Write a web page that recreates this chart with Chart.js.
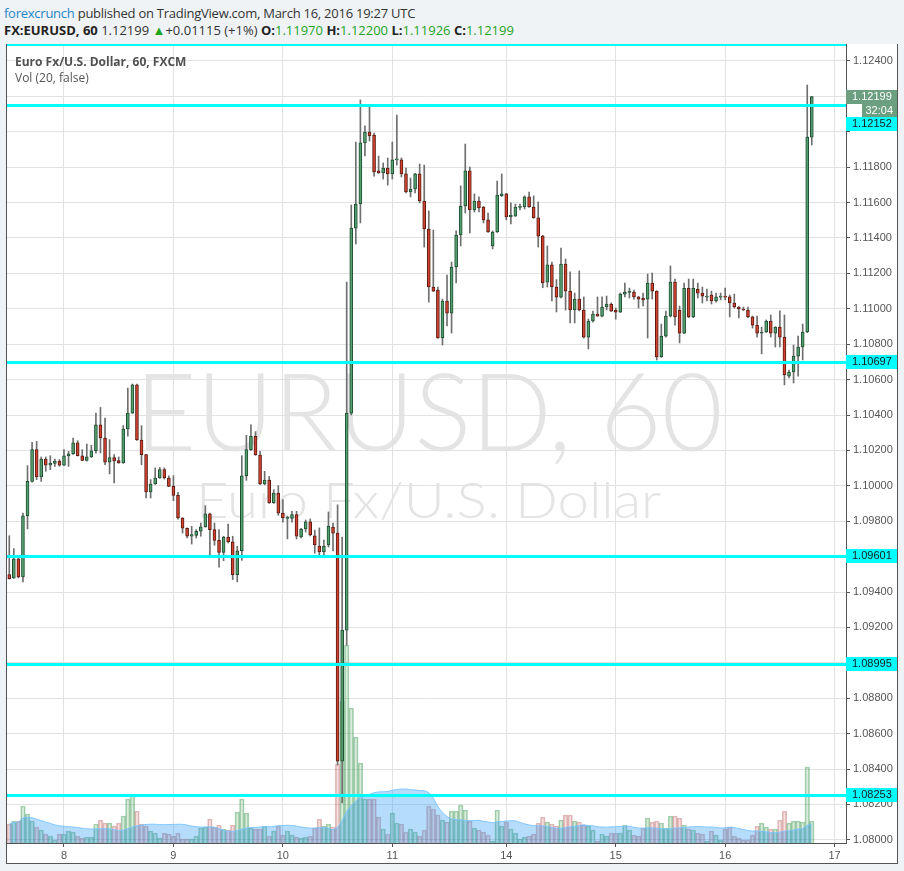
<!DOCTYPE html>
<html>
<head>
<meta charset="utf-8">
<script src="https://cdn.jsdelivr.net/npm/chart.js@4.4.1/dist/chart.umd.min.js"></script>
<style>
body { margin: 0; width: 904px; height: 871px; overflow: hidden; position: relative; background: #f0f3f6; font-family: 'Open Sans', sans-serif; }
.hdr { position: absolute; left: 4px; white-space: nowrap; color: #333; font-size: 13px; line-height: 18px; }
#l1 { top: 4px; letter-spacing: -0.25px; }
#l2 { top: 21px; }
#l2 b { color: #222; }
.g { color: #1ea51e; }
#panel { position: absolute; left: 6px; top: 44px; width: 890px; height: 819px; background: #fff;
  border-left: 1px solid #555; border-right: 1px solid #555; border-bottom: 1px solid #555; }
#wm { position: absolute; left: 0; top: 0; }
#chart { position: absolute; left: 0; top: 0; }
.leg { position: absolute; left: 8px; font-size: 12px; line-height: 16px; color: #555; white-space: nowrap; }
</style>
</head>
<body>
<div class="hdr" id="l1"><span style="color:#1f86c8">forexcrunch</span> published on TradingView.com, March 16, 2016 19:27 UTC</div>
<div class="hdr" id="l2"><b>FX:EURUSD, 60</b> 1.12199 <span class="g">&#9650;</span>+0.01115 (+1%) <b>O:</b><span class="g">1.11970</span> <b>H:</b><span class="g">1.12200</span> <b>L:</b><span class="g">1.11926</span> <b>C:</b><span class="g">1.12199</span></div>

<div id="panel">
  <svg id="wm" width="890" height="819">
    <text x="128" y="407" font-family="Lato, 'Open Sans', sans-serif" font-weight="300" font-size="108" fill="#e4e4e4" textLength="588" lengthAdjust="spacingAndGlyphs">EURUSD, 60</text>
    <text x="189" y="474" font-family="Lato, 'Open Sans', sans-serif" font-weight="300" font-size="50" fill="#e4e4e4" textLength="465" lengthAdjust="spacingAndGlyphs">Euro Fx/U.S. Dollar</text>
  </svg>
  <canvas id="chart" width="890" height="819"></canvas>
  <div class="leg" style="top:10px;font-weight:bold;color:#505050">Euro Fx/U.S. Dollar, 60, FXCM</div>
  <div class="leg" style="top:26px">Vol (20, false)</div>
</div>

<script>
// hourly sessions on the chart: [day of March, first hour, last hour]
const sessions = [[7, 12, 23], [8, 0, 23], [9, 0, 23], [10, 0, 23], [11, 0, 21],
                  [13, 21, 23], [14, 0, 23], [15, 0, 23], [16, 0, 23], [17, 0, 2]];

const opens = [
  1.09498, 1.09479, 1.09588, 1.09485, 1.09831, 1.10025, 1.10204, 1.10050, 1.10151, 1.10116,
  1.10127, 1.10140, 1.10116, 1.10169, 1.10180, 1.10243, 1.10169, 1.10144, 1.10163, 1.10198,
  1.10345, 1.10270, 1.10134, 1.10159, 1.10142, 1.10129, 1.10321, 1.10411, 1.10571, 1.10259,
  1.10176, 1.09965, 1.10010, 1.10044, 1.10091, 1.10044, 1.09997, 1.09946, 1.09818, 1.09760,
  1.09715, 1.09720, 1.09743, 1.09768, 1.09841, 1.09752, 1.09692, 1.09624, 1.09711, 1.09683,
  1.09498, 1.09633, 1.10057, 1.10204, 1.10280, 1.10174, 1.10010, 1.10033, 1.09903, 1.09959,
  1.09846, 1.09816, 1.09816, 1.09837, 1.09711, 1.09756, 1.09796, 1.09717, 1.09660, 1.09626,
  1.09666, 1.09767, 1.09733, 1.08445, 1.09185, 1.10411, 1.11456, 1.11592, 1.11937, 1.11999,
  1.11982, 1.11779, 1.11767, 1.11795, 1.11762, 1.11841, 1.11841, 1.11762, 1.11660, 1.11677,
  1.11762, 1.11609, 1.11451, 1.11123, 1.11106, 1.10835, 1.11044, 1.10976, 1.11236, 1.11417,
  1.11581, 1.11779, 1.11558, 1.11609, 1.11575, 1.11502, 1.11355, 1.11434, 1.11638, 1.11649,
  1.11519, 1.11524, 1.11573, 1.11575, 1.11632, 1.11575, 1.11514, 1.11411, 1.11151, 1.11248,
  1.11123, 1.11066, 1.11253, 1.11100, 1.10993, 1.11055, 1.10993, 1.10840, 1.10931, 1.10970,
  1.10959, 1.11010, 1.11027, 1.10993, 1.10981, 1.11083, 1.11093, 1.11094, 1.11067, 1.11061,
  1.11055, 1.11145, 1.11100, 1.10728, 1.10846, 1.10959, 1.11151, 1.10993, 1.10863, 1.11116,
  1.10954, 1.11110, 1.11089, 1.11066, 1.11078, 1.11044, 1.11066, 1.11068, 1.11067, 1.11033,
  1.11010, 1.10999, 1.10993, 1.10954, 1.10908, 1.10863, 1.10869, 1.10931, 1.10863, 1.10897,
  1.10840, 1.10620, 1.10643, 1.10733, 1.10784, 1.10869, 1.11970
];
const highs = [
  1.09718, 1.09645, 1.09590, 1.09846, 1.10114, 1.10245, 1.10251, 1.10163, 1.10163, 1.10170,
  1.10151, 1.10148, 1.10204, 1.10195, 1.10270, 1.10255, 1.10204, 1.10236, 1.10229, 1.10411,
  1.10443, 1.10383, 1.10261, 1.10176, 1.10163, 1.10340, 1.10552, 1.10575, 1.10575, 1.10340,
  1.10178, 1.10035, 1.10101, 1.10104, 1.10101, 1.10057, 1.10057, 1.09963, 1.09820, 1.09762,
  1.09771, 1.09752, 1.09790, 1.09888, 1.09846, 1.09790, 1.09752, 1.09715, 1.09784, 1.09715,
  1.09658, 1.10170, 1.10285, 1.10345, 1.10306, 1.10195, 1.10082, 1.10053, 1.09978, 1.10001,
  1.09922, 1.09828, 1.09856, 1.09856, 1.09760, 1.09807, 1.09813, 1.09750, 1.09762, 1.09694,
  1.09852, 1.09790, 1.09892, 1.09711, 1.11151, 1.11586, 1.11942, 1.12180, 1.12033, 1.12146,
  1.11993, 1.11863, 1.11824, 1.11852, 1.11942, 1.12095, 1.11852, 1.11795, 1.11739, 1.11765,
  1.11818, 1.11812, 1.11553, 1.11445, 1.11123, 1.11055, 1.11191, 1.11264, 1.11440, 1.11694,
  1.11931, 1.11801, 1.11649, 1.11632, 1.11578, 1.11541, 1.11440, 1.11722, 1.11762, 1.11652,
  1.11598, 1.11592, 1.11592, 1.11638, 1.11660, 1.11638, 1.11604, 1.11415, 1.11355, 1.11264,
  1.11165, 1.11343, 1.11281, 1.11209, 1.11089, 1.11214, 1.11067, 1.10942, 1.10987, 1.11067,
  1.11067, 1.11072, 1.11033, 1.11004, 1.11089, 1.11145, 1.11117, 1.11106, 1.11069, 1.11089,
  1.11196, 1.11202, 1.11102, 1.10914, 1.10987, 1.11242, 1.11168, 1.11016, 1.11145, 1.11168,
  1.11168, 1.11145, 1.11123, 1.11112, 1.11100, 1.11089, 1.11089, 1.11117, 1.11078, 1.11083,
  1.11012, 1.11010, 1.11010, 1.10959, 1.10959, 1.10897, 1.10937, 1.10965, 1.10899, 1.10988,
  1.10965, 1.10654, 1.10795, 1.10846, 1.10914, 1.12264, 1.12200
];
const lows = [
  1.09473, 1.09477, 1.09479, 1.09457, 1.09756, 1.10020, 1.10035, 1.10025, 1.10082, 1.10091,
  1.10110, 1.10110, 1.10114, 1.10110, 1.10178, 1.10168, 1.10142, 1.10140, 1.10160, 1.10185,
  1.10185, 1.10119, 1.10067, 1.10016, 1.10127, 1.10127, 1.10280, 1.10409, 1.10257, 1.10119,
  1.09931, 1.09931, 1.10008, 1.10042, 1.10038, 1.09995, 1.09916, 1.09812, 1.09733, 1.09705,
  1.09671, 1.09705, 1.09715, 1.09766, 1.09607, 1.09664, 1.09541, 1.09577, 1.09677, 1.09470,
  1.09457, 1.09579, 1.10031, 1.10200, 1.10172, 1.10006, 1.10006, 1.09901, 1.09901, 1.09833,
  1.09794, 1.09700, 1.09794, 1.09700, 1.09705, 1.09739, 1.09717, 1.09620, 1.09609, 1.09609,
  1.09654, 1.09632, 1.08423, 1.08208, 1.09100, 1.10400, 1.11366, 1.11485, 1.11863, 1.11948,
  1.11750, 1.11765, 1.11733, 1.11699, 1.11733, 1.11812, 1.11745, 1.11654, 1.11632, 1.11654,
  1.11598, 1.11349, 1.11038, 1.11098, 1.10832, 1.10795, 1.10903, 1.10863, 1.11146, 1.11355,
  1.11541, 1.11428, 1.11547, 1.11547, 1.11485, 1.11431, 1.11338, 1.11431, 1.11635, 1.11502,
  1.11479, 1.11522, 1.11558, 1.11564, 1.11573, 1.11512, 1.11349, 1.11119, 1.11123, 1.11044,
  1.10982, 1.11061, 1.10993, 1.10920, 1.10920, 1.10988, 1.10835, 1.10773, 1.10925, 1.10957,
  1.10954, 1.10993, 1.10985, 1.10941, 1.10979, 1.11067, 1.11061, 1.11055, 1.11004, 1.11016,
  1.10835, 1.11055, 1.10711, 1.10725, 1.10840, 1.10954, 1.10908, 1.10807, 1.10860, 1.10950,
  1.10950, 1.11061, 1.11033, 1.11044, 1.11027, 1.11038, 1.11050, 1.11050, 1.10954, 1.11004,
  1.10948, 1.10990, 1.10950, 1.10891, 1.10840, 1.10745, 1.10865, 1.10840, 1.10784, 1.10784,
  1.10570, 1.10609, 1.10581, 1.10620, 1.10711, 1.10865, 1.11926
];
const closes = [
  1.09475, 1.09588, 1.09485, 1.09831, 1.10025, 1.10204, 1.10050, 1.10151, 1.10116, 1.10129,
  1.10140, 1.10116, 1.10169, 1.10180, 1.10243, 1.10170, 1.10144, 1.10163, 1.10198, 1.10345,
  1.10270, 1.10134, 1.10159, 1.10140, 1.10129, 1.10321, 1.10411, 1.10571, 1.10259, 1.10176,
  1.09965, 1.10010, 1.10044, 1.10091, 1.10044, 1.09997, 1.09946, 1.09818, 1.09760, 1.09715,
  1.09724, 1.09743, 1.09768, 1.09841, 1.09752, 1.09692, 1.09624, 1.09711, 1.09683, 1.09498,
  1.09633, 1.10057, 1.10204, 1.10280, 1.10174, 1.10010, 1.10033, 1.09903, 1.09959, 1.09846,
  1.09818, 1.09820, 1.09837, 1.09715, 1.09756, 1.09796, 1.09723, 1.09666, 1.09626, 1.09660,
  1.09773, 1.09733, 1.08445, 1.09185, 1.10411, 1.11456, 1.11592, 1.11937, 1.11999, 1.11976,
  1.11773, 1.11767, 1.11795, 1.11762, 1.11841, 1.11843, 1.11762, 1.11660, 1.11677, 1.11762,
  1.11609, 1.11451, 1.11123, 1.11100, 1.10835, 1.11044, 1.10976, 1.11236, 1.11417, 1.11581,
  1.11779, 1.11558, 1.11609, 1.11570, 1.11502, 1.11434, 1.11434, 1.11643, 1.11649, 1.11519,
  1.11530, 1.11575, 1.11575, 1.11632, 1.11575, 1.11514, 1.11411, 1.11146, 1.11248, 1.11123,
  1.11066, 1.11253, 1.11100, 1.10993, 1.11055, 1.10993, 1.10840, 1.10931, 1.10970, 1.10959,
  1.11010, 1.11027, 1.10987, 1.10981, 1.11083, 1.11094, 1.11095, 1.11067, 1.11055, 1.11050,
  1.11145, 1.11100, 1.10728, 1.10846, 1.10959, 1.11151, 1.10954, 1.10863, 1.11116, 1.10954,
  1.11116, 1.11089, 1.11072, 1.11068, 1.11044, 1.11067, 1.11068, 1.11066, 1.11033, 1.11010,
  1.10999, 1.10993, 1.10954, 1.10908, 1.10863, 1.10869, 1.10931, 1.10863, 1.10897, 1.10840,
  1.10626, 1.10643, 1.10733, 1.10784, 1.10869, 1.11970, 1.12199
];
const volumes = [
  19, 22, 22, 37, 29, 22, 16, 13, 9, 7,
  3, 9, 9, 12, 11, 7, 5, 6, 6, 19,
  23, 20, 20, 17, 20, 27, 44, 48, 32, 19,
  17, 12, 10, 5, 10, 9, 7, 10, 4, 4,
  4, 7, 15, 16, 24, 16, 18, 14, 13, 18,
  31, 44, 30, 15, 14, 14, 17, 7, 12, 17,
  8, 12, 8, 6, 5, 6, 7, 15, 24, 17,
  19, 16, 79, 142, 198, 135, 106, 80, 44, 44,
  44, 26, 14, 9, 30, 20, 19, 11, 14, 11,
  7, 13, 37, 34, 28, 23, 21, 32, 32, 38,
  33, 22, 15, 13, 11, 8, 2, 33, 17, 21,
  14, 10, 4, 6, 7, 9, 20, 26, 21, 19,
  17, 23, 28, 28, 22, 21, 18, 17, 13, 2,
  9, 7, 10, 10, 10, 18, 13, 8, 7, 15,
  25, 21, 22, 20, 15, 27, 27, 25, 18, 14,
  13, 10, 9, 2, 12, 8, 3, 14, 16, 7,
  5, 3, 3, 8, 17, 20, 16, 14, 14, 23,
  32, 20, 22, 22, 21, 76, 22
];

// drawn horizontal levels
const levels = [1.12152, 1.10697, 1.09601, 1.08995, 1.08253];
const lastPrice = 1.12199;
const countdown = '32:04';

const yMin = 1.07982, yMax = 1.12496, yStep = 0.002;
const volPeriod = 20;

const labels = [];
sessions.forEach(([d, h0, h1]) => {
    for (let h = h0; h <= h1; h++) labels.push(d + ' ' + String(h).padStart(2, '0') + ':00');
});

function sma(arr, n) {
    return arr.map((_, i) => {
        const part = arr.slice(Math.max(0, i - n + 1), i + 1);
        return part.reduce((a, b) => a + b, 0) / part.length;
    });
}

const up = closes.map((c, i) => c >= opens[i]);

const levelPlugin = {
    id: 'levels',
    afterDatasetsDraw(chart) {
        const { ctx, chartArea: a, scales: { y } } = chart;
        const axisX = a.right;
        const boxW = chart.width - axisX;
        ctx.save();
        ctx.fillStyle = '#00ffff';
        ctx.fillRect(a.left, a.top, a.right - a.left, 2);
        levels.forEach(lv => {
            const py = Math.round(y.getPixelForValue(lv));
            ctx.fillRect(a.left, py - 1, a.right - a.left, 3);
        });

        ctx.font = '11px "Liberation Sans", Arial, sans-serif';
        ctx.textBaseline = 'middle';

        // price label stack: last price, countdown, then a level pushed below them
        const pp = Math.round(y.getPixelForValue(lastPrice));
        const stackEnd = pp + 34;
        ctx.fillStyle = '#fff';
        y.ticks.forEach(t => {
            const ty = y.getPixelForValue(t.value);
            if (ty > pp - 8 && ty < stackEnd + 4) ctx.fillRect(axisX + 5, ty - 7, boxW - 5, 14);
        });

        ctx.fillStyle = '#6b9f7f';
        ctx.fillRect(axisX, pp - 7, boxW, 14);
        ctx.fillRect(axisX + 16, pp + 7, boxW - 16, 13);
        ctx.fillStyle = '#fff';
        ctx.fillText(lastPrice.toFixed(5), axisX + 6, pp);
        ctx.textAlign = 'right';
        ctx.fillText(countdown, chart.width - 4, pp + 14);
        ctx.textAlign = 'left';

        levels.forEach(lv => {
            let py = Math.round(y.getPixelForValue(lv));
            if (Math.abs(py - pp) < 30) py = pp + 27;
            ctx.fillStyle = '#00ffff';
            ctx.fillRect(axisX, py - 7, boxW, 14);
            ctx.fillStyle = '#1a1a1a';
            ctx.fillText(lv.toFixed(5), axisX + 6, py);
        });
        ctx.restore();
    }
};

new Chart(document.getElementById('chart'), {
    data: {
        labels: labels,
        datasets: [
            {
                type: 'bar',
                data: opens.map((o, i) => [o, closes[i]]),
                backgroundColor: up.map(u => u ? '#53a06f' : '#d2432f'),
                borderColor: up.map(u => u ? '#1f4d31' : '#5a1a12'),
                borderWidth: 1,
                borderSkipped: false,
                barThickness: 3,
                minBarLength: 1,
                grouped: false,
                order: 1
            },
            {
                type: 'bar',
                data: lows.map((l, i) => [l, highs[i]]),
                backgroundColor: '#6f6f6f',
                barThickness: 1,
                grouped: false,
                order: 2
            },
            {
                type: 'line',
                data: sma(volumes, volPeriod),
                yAxisID: 'yv',
                fill: 'origin',
                backgroundColor: 'rgba(33,150,243,0.33)',
                borderColor: 'rgba(120,195,255,0.9)',
                borderWidth: 1,
                pointRadius: 0,
                tension: 0.3,
                order: 3
            },
            {
                type: 'bar',
                data: volumes,
                yAxisID: 'yv',
                backgroundColor: up.map(u => u ? 'rgba(80,170,100,0.22)' : 'rgba(200,80,80,0.18)'),
                borderColor: up.map(u => u ? 'rgba(60,150,80,0.45)' : 'rgba(170,70,70,0.35)'),
                borderWidth: 1,
                barPercentage: 1,
                categoryPercentage: 1,
                grouped: false,
                order: 4
            }
        ]
    },
    options: {
        responsive: false,
        animation: false,
        devicePixelRatio: 1,
        events: [],
        layout: { padding: 0 },
        plugins: { legend: { display: false }, tooltip: { enabled: false } },
        scales: {
            x: {
                type: 'category',
                offset: true,
                border: { display: true, color: '#555' },
                grid: { offset: false, color: '#e2e2e2', tickColor: '#555', tickLength: 4 },
                ticks: {
                    autoSkip: false, maxRotation: 0, padding: 2, color: '#555',
                    font: { family: '"Liberation Sans", Arial, sans-serif', size: 11 },
                    callback: v => labels[v].split(' ')[0]
                },
                afterBuildTicks: s => { s.ticks = s.ticks.filter(t => labels[t.value].endsWith(' 00:00')); },
                afterFit: s => { s.height = 20; s.paddingLeft = 0; s.paddingRight = 0; }
            },
            y: {
                position: 'right',
                min: yMin,
                max: yMax,
                border: { display: true, color: '#555' },
                grid: { color: '#e2e2e2', tickColor: '#555', tickLength: 4 },
                ticks: {
                    stepSize: yStep, includeBounds: false, padding: 3, color: '#555',
                    font: { family: '"Liberation Sans", Arial, sans-serif', size: 11 },
                    callback: v => v.toFixed(5)
                },
                afterFit: s => { s.width = 51; s.paddingTop = 0; s.paddingBottom = 0; }
            },
            yv: {
                display: false,
                min: 0,
                max: 799
            }
        }
    },
    plugins: [levelPlugin]
});
</script>
</body>
</html>
